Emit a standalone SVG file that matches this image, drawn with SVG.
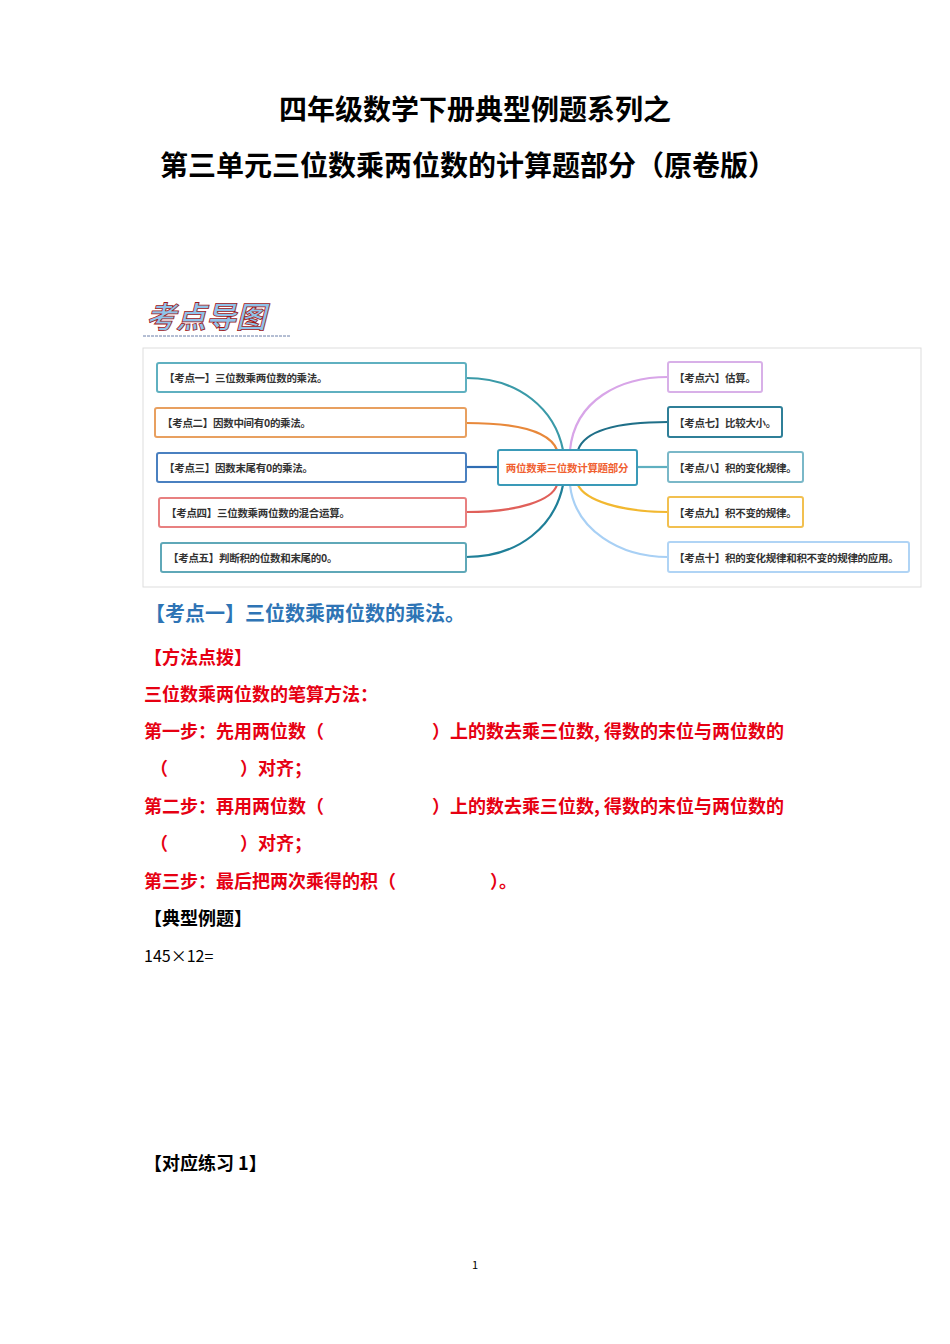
<svg xmlns="http://www.w3.org/2000/svg" width="950" height="1344" viewBox="0 0 950 1344">
<style>
text{font-family:"Noto Sans CJK SC","Noto Sans",sans-serif}
.t{font-size:28px;font-weight:bold;fill:#000;text-anchor:middle}
.b{fill:#fff;stroke-width:2;rx:2}
.n{font-size:10.5px;fill:#333;font-weight:bold;letter-spacing:-0.3px}
.c{fill:none;stroke-width:2.2}
.r{font-size:18px;font-weight:bold;fill:#e60012}
.k{font-size:18px;font-weight:bold;fill:#000}
</style>
<rect width="950" height="1344" fill="#fff"/>
<text class="t" x="475" y="120">四年级数学下册典型例题系列之</text>
<text class="t" x="468" y="176">第三单元三位数乘两位数的计算题部分（原卷版）</text>
<text x="146" y="328" font-size="30" font-weight="bold" font-style="italic" fill="#8fc3ea" stroke="#a01818" stroke-width="0.8">考点导图</text>
<line x1="143" y1="336" x2="290" y2="336" stroke="#6a7fa8" stroke-dasharray="3,1"/>
<rect x="143" y="348" width="778" height="239" fill="#fff" stroke="#ddd"/>
<g id="connectors">
<path class="c" stroke="#3a9aa8" d="M466,378 C520,378 555,410 563,450"/>
<path class="c" stroke="#e8883a" d="M466,423 C520,423 550,432 557,450"/>
<path class="c" stroke="#2f6db3" d="M466,467 L498,467"/>
<path class="c" stroke="#e0605a" d="M466,512 C520,512 552,500 557,485"/>
<path class="c" stroke="#1f7f98" d="M466,557 C520,557 555,525 563,485"/>
<path class="c" stroke="#d8a5e8" d="M668,377 C620,377 575,400 570,450"/>
<path class="c" stroke="#1f6f88" d="M668,422 C620,422 585,430 578,450"/>
<path class="c" stroke="#5fb0c0" d="M637,467 L668,467"/>
<path class="c" stroke="#f2b830" d="M668,512 C620,512 585,500 578,485"/>
<path class="c" stroke="#a8d0f5" d="M668,557 C620,557 575,530 570,485"/>
</g>
<g id="n1"><rect class="b" x="157" y="363" width="309" height="29" stroke="#5fb0c0"/><text class="n" x="164" y="382">【考点一】三位数乘两位数的乘法。</text></g>
<g id="n2"><rect class="b" x="155" y="408" width="311" height="29" stroke="#e8a060"/><text class="n" x="162" y="427">【考点二】因数中间有0的乘法。</text></g>
<g id="n3"><rect class="b" x="157" y="453" width="309" height="29" stroke="#4a80c0"/><text class="n" x="164" y="472">【考点三】因数末尾有0的乘法。</text></g>
<g id="n4"><rect class="b" x="159" y="498" width="307" height="29" stroke="#e88080"/><text class="n" x="166" y="517">【考点四】三位数乘两位数的混合运算。</text></g>
<g id="n5"><rect class="b" x="161" y="543" width="305" height="29" stroke="#5fa8b8"/><text class="n" x="168" y="562">【考点五】判断积的位数和末尾的0。</text></g>
<g id="center"><rect class="b" x="498" y="450" width="139" height="35" stroke="#3a9ab8" stroke-width="2.5"/><text x="567" y="472" font-size="10.5" font-weight="bold" fill="#f06030" text-anchor="middle" letter-spacing="-0.3">两位数乘三位数计算题部分</text></g>
<g id="n6"><rect class="b" x="668" y="362" width="94" height="30" stroke="#d8b0e8"/><text class="n" x="674" y="382">【考点六】估算。</text></g>
<g id="n7"><rect class="b" x="668" y="407" width="114" height="30" stroke="#2f7f98"/><text class="n" x="674" y="427">【考点七】比较大小。</text></g>
<g id="n8"><rect class="b" x="668" y="452" width="135" height="30" stroke="#7ab8c8"/><text class="n" x="674" y="472">【考点八】积的变化规律。</text></g>
<g id="n9"><rect class="b" x="668" y="497" width="135" height="30" stroke="#f2c050"/><text class="n" x="674" y="517">【考点九】积不变的规律。</text></g>
<g id="n10"><rect class="b" x="668" y="542" width="241" height="30" stroke="#b0d4f5"/><text class="n" x="674" y="562">【考点十】积的变化规律和积不变的规律的应用。</text></g>
<text x="145" y="621" font-size="20" font-weight="bold" fill="#2e74b5">【考点一】三位数乘两位数的乘法。</text>
<text class="r" x="144" y="664">【方法点拨】</text>
<text class="r" x="144" y="701">三位数乘两位数的笔算方法：</text>
<text class="r" x="144" y="738">第一步：先用两位数（</text>
<text class="r" x="432" y="738">）上的数去乘三位数, 得数的末位与两位数的</text>
<text class="r" x="150" y="775">（</text>
<text class="r" x="240" y="775">）对齐；</text>
<text class="r" x="144" y="813">第二步：再用两位数（</text>
<text class="r" x="432" y="813">）上的数去乘三位数, 得数的末位与两位数的</text>
<text class="r" x="150" y="850">（</text>
<text class="r" x="240" y="850">）对齐；</text>
<text class="r" x="144" y="888">第三步：最后把两次乘得的积（</text>
<text class="r" x="490" y="888">）。</text>
<text class="k" x="144" y="925">【典型例题】</text>
<text x="144" y="962" font-size="16" font-family="Liberation Sans,sans-serif">145×12=</text>
<text class="k" x="144" y="1170">【对应练习 1】</text>
<text x="475" y="1269" font-size="11" text-anchor="middle" font-family="Liberation Serif,serif">1</text>
</svg>
